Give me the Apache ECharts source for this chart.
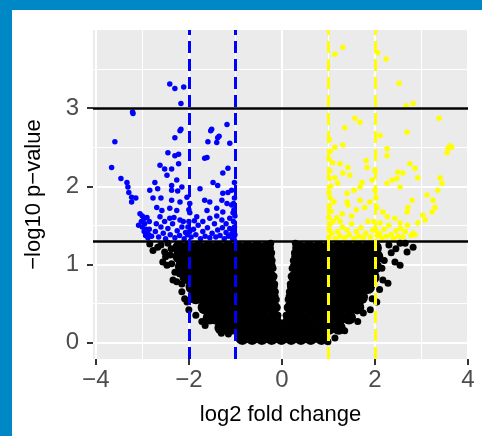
<!DOCTYPE html>
<html>
<head>
<meta charset="utf-8">
<script src="https://cdn.jsdelivr.net/npm/echarts@6/dist/echarts.min.js"></script>
<style>html,body{margin:0;padding:0;background:#fff}#c{width:482px;height:436px}</style>
</head>
<body>
<div id="c"></div>
<script>
// ---- data ----
const xTicks = [-4, -2, 0, 2, 4];
const yTicks = [0, 1, 2, 3];
const xMinorGrid = [-3, -1, 1, 3];
const yMinorGrid = [0.5, 1.5, 2.5, 3.5];
const pCut = [1.301, 3];          // horizontal thresholds (-log10 p)
const fcCutDown = [-2, -1];       // blue dashed
const fcCutUp = [1, 2];           // yellow dashed

// non-significant mass: rows of [y, xs]
const nsRows = [
 [1.21, [-2.21,-2.0,-1.79,-1.58,-1.37,-1.16,-0.95,-0.74,-0.53,-0.32, 0.37,0.58,0.79,1.0,1.21,1.42,1.63,1.84,2.0]],
 [1.10, [-2.2,-1.99,-1.78,-1.57,-1.36,-1.15,-0.94,-0.73,-0.52,-0.31, 0.35,0.56,0.77,0.98,1.19,1.4,1.61,1.82,2.03]],
 [0.97, [-2.15,-1.96,-1.75,-1.54,-1.33,-1.12,-0.91,-0.7,-0.49,-0.28, 0.32,0.53,0.74,0.95,1.16,1.37,1.58,1.79,2.0]],
 [0.84, [-2.05,-1.94,-1.73,-1.52,-1.31,-1.1,-0.89,-0.68,-0.47,-0.26, 0.29,0.5,0.71,0.92,1.13,1.34,1.55,1.76,1.95]],
 [0.71, [-1.92,-1.71,-1.5,-1.29,-1.08,-0.87,-0.66,-0.45,-0.24, 0.26,0.47,0.68,0.89,1.1,1.31,1.52,1.73,1.85]],
 [0.58, [-1.85,-1.69,-1.48,-1.27,-1.06,-0.85,-0.64,-0.43,-0.22, 0.23,0.44,0.65,0.86,1.07,1.28,1.49,1.7]],
 [0.45, [-1.66,-1.45,-1.24,-1.03,-0.82,-0.61,-0.4,-0.19, 0.2,0.41,0.62,0.83,1.04,1.25,1.46,1.62]],
 [0.32, [-1.55,-1.43,-1.22,-1.01,-0.8,-0.59,-0.38,-0.17, 0.18,0.39,0.6,0.81,1.02,1.23,1.44]],
 [0.19, [-1.3,-1.09,-0.88,-0.67,-0.46,-0.25,-0.04,0.17,0.38,0.59,0.8,1.01,1.22]],
 [0.06, [-0.85,-0.64,-0.43,-0.22,-0.01,0.2,0.41,0.62,0.85]]
];
const nsEdge = [
 [-2.77,1.18],[-2.67,1.22],[-2.84,1.26],[-2.52,1.16],[-2.6,1.25],[-2.45,1.27],[-2.38,1.2],[-2.5,1.1],[-2.4,1.12],
 [-2.47,0.99],[-2.56,1.03],[-2.37,1.01],[-2.3,0.9],[-2.2,0.88],[-2.26,0.78],[-2.34,0.8],[-2.15,0.75],[-2.15,0.65],
 [-2.04,0.52],[-2.09,0.56],[-2.0,0.42],[-1.85,0.35],[-1.72,0.27],[-1.48,0.29],[-1.57,0.32],[-1.65,0.22],[-1.3,0.12],[-1.15,0.11],
 [2.69,1.16],[2.82,1.22],[2.54,1.27],[2.54,0.99],[2.43,1.03],[2.28,0.76],[2.17,0.8],[2.04,0.52],[1.94,0.56],
 [1.63,0.27],[1.51,0.32],[0.99,0.01],[1.14,0.06],[2.35,1.15],[2.3,1.25],[2.2,1.05],[2.15,0.95],[2.1,0.68],
 [1.9,0.42],[1.75,0.38],[1.35,0.15],[1.25,0.2],[2.65,1.27],[2.45,1.2],
 [-0.24,1.27],[-0.22,1.15],[-0.21,1.05],[-0.19,0.95],[-0.17,0.85],[-0.155,0.75],[-0.14,0.65],[-0.12,0.55],[-0.1,0.45],[-0.085,0.35],[-0.07,0.27],
 [0.29,1.27],[0.27,1.15],[0.245,1.05],[0.22,0.95],[0.2,0.85],[0.18,0.75],[0.16,0.65],[0.135,0.55],[0.115,0.45],[0.09,0.35],[0.075,0.27]
];
const downGenes = [
 [-2.41,3.31],[-2.30,3.25],[-2.11,3.27],[-2.17,3.06],[-3.20,2.93],[-3.21,2.95],
 [-1.51,2.73],[-1.18,2.79],[-2.17,2.73],[-2.30,2.62],[-1.38,2.62],
 [-3.59,2.57],[-3.66,2.24],[-3.46,2.10],[-3.33,2.05],[-3.31,1.99],[-3.29,1.92],[-3.23,1.86],[-3.23,1.80],[-3.14,1.85],
 [-3.05,1.65],[-3.0,1.62],[-2.97,1.58],[-3.02,1.55],[-2.95,1.52],[-3.0,1.48],[-2.92,1.45],[-2.96,1.42],[-2.9,1.40],[-2.93,1.37],[-2.88,1.34],[-2.85,1.45],[-2.86,1.38],[-3.08,1.5],
 [-2.45,2.43],[-2.30,2.39],[-2.22,2.41],[-2.22,2.29],[-2.62,2.27],[-2.52,2.22],[-2.37,2.22],[-2.47,2.14],[-2.26,2.08],[-2.73,2.05],
 [-2.84,1.95],[-2.67,1.97],[-2.37,2.01],[-2.37,1.95],[-2.24,1.94],[-2.15,1.99],[-2.77,1.85],[-2.60,1.85],[-2.37,1.82],[-2.19,1.80],
 [-2.69,1.73],[-2.58,1.69],[-2.41,1.72],[-2.26,1.69],[-2.04,1.86],[-1.98,1.78],[-2.62,1.61],[-2.41,1.59],[-2.19,1.57],[-1.98,1.66],
 [-1.83,1.61],[-1.61,1.69],[-1.66,1.82],[-1.55,1.80],[-1.76,1.97],[-1.61,2.37],[-1.66,2.36],[-1.59,2.57],[-1.40,2.56],[-1.35,2.64],
 [-1.53,2.71],[-1.12,2.55],[-1.27,2.17],[-1.16,2.23],[-1.48,2.05],[-1.38,2.01],[-1.27,1.91],[-1.16,1.92],[-1.08,1.95],[-1.29,1.82],
 [-1.18,1.78],[-1.08,1.76],[-1.40,1.72],[-1.27,1.67],[-1.05,1.66],[-1.55,1.59],[-1.29,1.57],[-1.12,1.59],[-2.19,2.71],
 [-1.02,1.85],[-1.03,1.70],[-1.01,1.62],[-1.04,1.55],[-1.02,1.48],[-1.05,1.42],[-1.01,1.38],[-1.03,1.34],[-1.02,2.05],[-1.04,1.78],
 [-2.0,1.55],[-2.02,1.48],[-1.98,1.42],[-2.03,1.38],[-2.0,1.7],
 [-2.8,1.36],[-2.72,1.42],[-2.65,1.35],[-2.6,1.48],[-2.55,1.4],[-2.5,1.33],[-2.45,1.46],[-2.4,1.38],[-2.35,1.52],[-2.3,1.34],
 [-2.25,1.43],[-2.2,1.37],[-2.15,1.48],[-2.1,1.33],[-2.07,1.41],[-1.95,1.35],[-1.9,1.45],[-1.85,1.38],[-1.8,1.5],[-1.75,1.33],
 [-1.7,1.42],[-1.65,1.36],[-1.6,1.47],[-1.55,1.34],[-1.5,1.4],[-1.45,1.52],[-1.42,1.35],[-1.38,1.44],[-1.33,1.37],[-1.28,1.47],
 [-1.24,1.33],[-1.2,1.41],[-1.15,1.36],[-1.12,1.46],[-1.08,1.39],[-1.06,1.33],[-2.52,1.55],[-2.32,1.6],[-2.12,1.55],[-1.88,1.56],
 [-1.7,1.55],[-1.4,1.62],[-1.2,1.52],[-2.7,1.52],[-2.85,1.55],[-2.9,1.6]
];
const upGenes = [
 [1.31,3.78],[1.14,3.69],[2.06,3.71],[2.24,3.63],[2.52,3.32],[2.82,3.06],[2.67,3.03],[1.57,2.87],[1.68,2.82],[1.35,2.75],
 [2.69,2.69],[3.38,2.87],[2.11,2.65],[1.14,2.50],[1.31,2.53],[3.61,2.52],[3.55,2.43],[3.57,2.48],[3.65,2.5],[2.26,2.48],
 [2.26,2.39],[1.25,2.29],[1.42,2.24],[1.31,2.17],[1.46,2.14],[1.81,2.33],[1.83,2.24],[2.49,2.18],[2.60,2.17],[2.75,2.29],
 [2.86,2.23],[2.92,2.11],[3.40,2.11],[3.44,2.04],[3.35,1.95],[3.12,1.89],[3.25,1.82],[3.29,1.73],[3.03,1.63],[3.23,1.67],
 [3.08,1.57],[2.92,1.53],[2.82,1.40],[2.86,1.38],[2.78,1.37],[1.72,2.05],[1.68,1.99],[1.94,2.08],[2.26,2.04],[2.37,2.08],
 [2.47,2.10],[2.54,1.99],[2.80,1.82],[2.71,1.73],[2.69,1.67],[1.40,1.91],[1.40,1.80],[1.20,2.04],[1.14,2.11],[1.42,1.76],
 [1.68,1.82],[1.78,1.73],[1.89,1.80],[2.04,1.73],[2.17,1.67],[2.26,1.61],[2.43,1.59],[2.54,1.53],[2.11,1.53],
 [1.02,2.6],[1.04,2.45],[1.01,2.35],[1.03,2.2],[1.02,2.1],[1.05,2.0],[1.01,1.92],[1.04,1.85],[1.02,1.75],[1.06,1.68],
 [1.01,1.6],[1.04,1.52],[1.02,1.45],[1.07,1.4],[1.01,1.35],[1.1,1.55],[1.12,1.8],[1.09,2.3],
 [2.0,1.95],[2.02,1.85],[1.98,1.55],[2.01,1.45],[2.0,2.2],
 [1.15,1.33],[1.2,1.42],[1.25,1.36],[1.3,1.48],[1.35,1.34],[1.4,1.44],[1.45,1.38],[1.5,1.52],[1.55,1.33],[1.6,1.42],
 [1.65,1.36],[1.7,1.47],[1.75,1.34],[1.8,1.4],[1.85,1.55],[1.9,1.35],[1.95,1.44],[2.05,1.37],[2.1,1.4],[2.15,1.34],
 [2.2,1.45],[2.25,1.36],[2.3,1.5],[2.35,1.38],[2.4,1.33],[2.45,1.43],[2.5,1.36],[2.55,1.46],[2.6,1.35],[2.65,1.42],
 [2.7,1.5],[1.18,1.6],[1.3,1.65],[1.5,1.62],[1.6,1.7],[1.25,1.55],[1.55,1.95]
];

// ---- build ----
const nsCore = nsRows.flatMap(([y, xs]) => xs.map(x => [x, y]));
const minus = v => String(v).replace('-', '\u2212');
const gl = (key, v, w) => ({ [key]: v, lineStyle: { color: '#FFFFFF', width: w, type: 'solid' } });
const gridLines = [
  ...xTicks.map(v => gl('xAxis', v, 2)), ...xMinorGrid.map(v => gl('xAxis', v, 1)),
  ...yTicks.map(v => gl('yAxis', v, 2)), ...yMinorGrid.map(v => gl('yAxis', v, 1))
];
const cutLines = [
  ...pCut.map(v => ({ yAxis: v, lineStyle: { color: '#000000', width: 2.5, type: 'solid' } })),
  ...fcCutDown.map(v => ({ xAxis: v, lineStyle: { color: '#0000FF', width: 3, type: [12, 6] } })),
  ...fcCutUp.map(v => ({ xAxis: v, lineStyle: { color: '#FFFF00', width: 3, type: [12, 6] } }))
];
const hiddenLine = { show: true, onZero: false, lineStyle: { color: 'rgba(0,0,0,0)', width: 0 } };

const chart = echarts.init(document.getElementById('c'), null, { renderer: 'canvas' });
chart.setOption({
  animation: false,
  backgroundColor: '#FFFFFF',
  grid: { left: 93, top: 30, width: 375, height: 329, show: true, backgroundColor: '#EBEBEB', borderWidth: 0, containLabel: false },
  xAxis: {
    type: 'value', min: -4.06, max: 4.0,
    name: 'log2 fold change', nameLocation: 'middle', nameGap: 45,
    nameTextStyle: { color: '#000000', fontSize: 22, fontFamily: 'Liberation Sans' },
    axisLine: hiddenLine,
    axisTick: { show: true, customValues: xTicks, length: 6, lineStyle: { color: '#333333', width: 2 } },
    axisLabel: { customValues: xTicks, formatter: minus, color: '#4D4D4D', fontSize: 24, margin: 9, fontFamily: 'Liberation Sans' },
    splitLine: { show: false }
  },
  yAxis: {
    type: 'value', min: -0.21, max: 4.0,
    name: '\u2212log10 p\u2212value', nameLocation: 'middle', nameGap: 48, nameRotate: 90,
    nameTextStyle: { color: '#000000', fontSize: 22, fontFamily: 'Liberation Sans' },
    axisLine: hiddenLine,
    axisTick: { show: true, customValues: yTicks, length: 6, lineStyle: { color: '#333333', width: 2 } },
    axisLabel: { customValues: yTicks, formatter: minus, color: '#4D4D4D', fontSize: 24, margin: 14, fontFamily: 'Liberation Sans' },
    splitLine: { show: false }
  },
  graphic: [
    { type: 'rect', z: 100, shape: { x: 0, y: 0, width: 482, height: 10 }, style: { fill: '#0088C6' } },
    { type: 'rect', z: 100, shape: { x: 0, y: 0, width: 12, height: 436 }, style: { fill: '#0088C6' } }
  ],
  series: [
    { type: 'scatter', data: [], z: 1, silent: true,
      markLine: { z: 1, silent: true, symbol: ['none', 'none'], label: { show: false }, data: gridLines } },
    { type: 'scatter', data: nsCore, symbolSize: 14, itemStyle: { color: '#000000', opacity: 1 }, z: 2, silent: true },
    { type: 'scatter', data: nsEdge, symbolSize: 7, itemStyle: { color: '#000000', opacity: 1 }, z: 2, silent: true },
    { type: 'scatter', data: downGenes, symbolSize: 5.5, itemStyle: { color: '#0000FF', opacity: 1 }, z: 3, silent: true },
    { type: 'scatter', data: upGenes, symbolSize: 5.5, itemStyle: { color: '#FFFF00', opacity: 1 }, z: 3, silent: true },
    { type: 'scatter', data: [], z: 10, silent: true,
      markLine: { z: 10, silent: true, symbol: ['none', 'none'], label: { show: false }, data: cutLines } }
  ]
});
</script>
</body>
</html>
